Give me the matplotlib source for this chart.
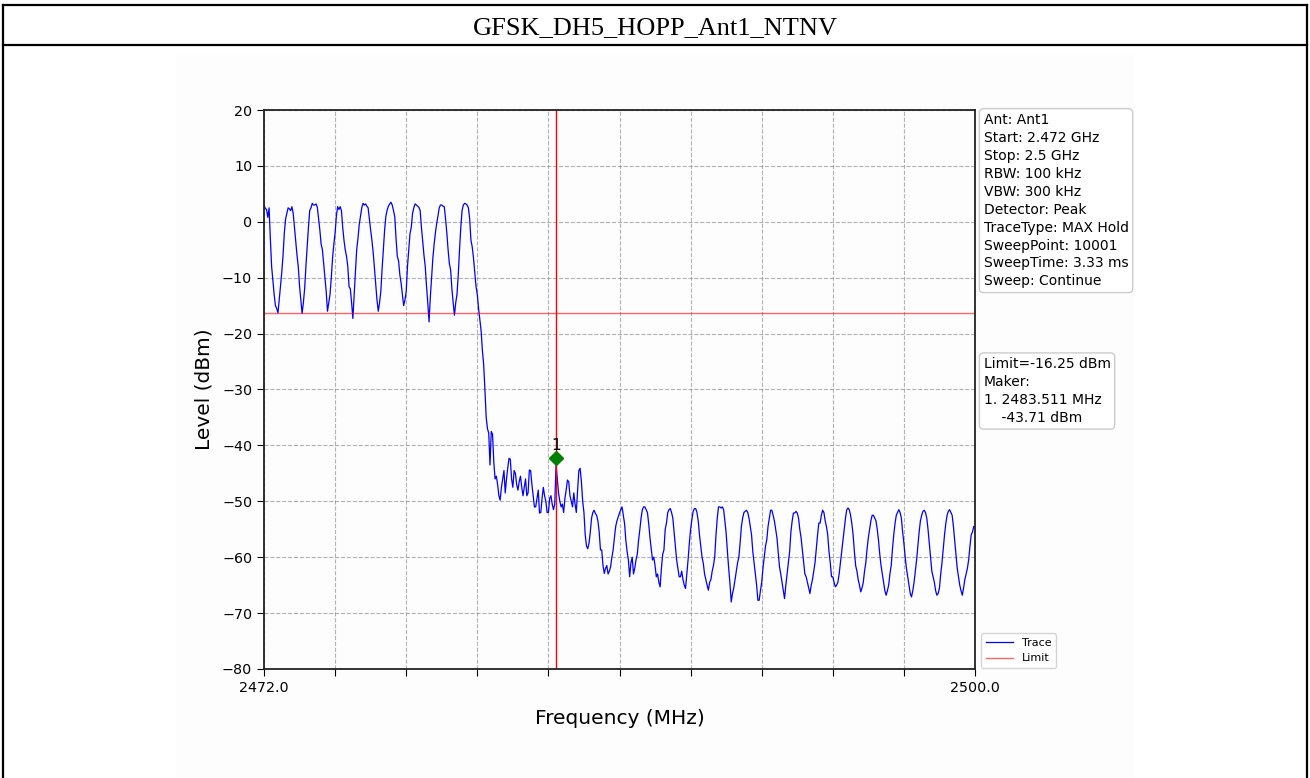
import numpy as np
import matplotlib
matplotlib.use("Agg")
import matplotlib.pyplot as plt
from matplotlib.lines import Line2D
from matplotlib.patches import Rectangle

# ---------------- data ----------------
title = "GFSK_DH5_HOPP_Ant1_NTNV"
start_mhz = 2472.0
stop_mhz = 2500.0
step_mhz = 0.05

# trace level (dBm), one row per MHz, 0.05 MHz steps
levels = [
    # 2472
    3.0, 2.4, 2.2, 0.8, 2.5, -3.0, -8.0, -10.5, -13.0, -15.0, -15.5, -16.3, -14.0, -11.5, -9.0, -6.0, -2.0, 0.5, 1.5, 2.5,
    # 2473
    2.3, 2.0, 2.7, 1.5, -1.0, -3.5, -6.0, -8.0, -11.5, -14.0, -16.4, -14.5, -12.0, -8.0, -4.5, -1.0, 2.0, 2.5, 3.3, 3.0,
    # 2474
    3.0, 3.2, 2.6, 0.5, -1.5, -4.0, -5.0, -7.5, -10.0, -12.5, -16.0, -14.5, -13.0, -10.0, -6.5, -4.0, -2.0, 1.0, 2.7, 2.2,
    # 2475
    2.7, 2.0, -1.0, -3.3, -5.0, -6.2, -8.0, -11.6, -12.0, -14.5, -17.3, -13.0, -9.0, -5.0, -3.0, -0.5, 1.0, 2.5, 3.3, 3.0,
    # 2476
    3.2, 2.8, 2.5, 0.5, -1.5, -3.3, -5.5, -8.3, -11.0, -14.0, -16.0, -14.5, -12.5, -8.5, -5.0, -1.5, 1.0, 2.1, 2.8, 3.2,
    # 2477
    3.5, 3.0, 2.0, 0.9, -3.0, -6.2, -7.0, -9.5, -11.0, -13.0, -15.0, -14.0, -12.5, -8.0, -5.0, -2.1, -1.0, 1.5, 2.5, 3.2,
    # 2478
    3.0, 2.8, 2.6, 2.0, -1.0, -3.5, -6.0, -8.0, -11.5, -14.5, -17.9, -13.5, -10.0, -6.5, -4.0, -2.0, -0.3, 1.0, 2.5, 3.0,
    # 2479
    3.0, 2.8, 2.7, 0.5, -2.0, -5.0, -7.5, -8.6, -12.0, -14.5, -16.7, -14.5, -13.0, -9.5, -5.0, -1.0, 2.0, 3.0, 3.3, 3.2,
    # 2480
    3.0, 2.5, 0.5, -3.3, -4.5, -6.5, -9.0, -11.6, -13.0, -15.5, -17.5, -19.5, -23.0, -25.5, -30.0, -35.0, -37.0, -37.8, -43.5, -37.5,
    # 2481
    -38.0, -43.0, -46.0, -45.5, -47.0, -49.0, -49.8, -47.5, -46.0, -44.5, -48.5, -46.0, -44.0, -42.3, -42.5, -46.0, -47.5, -44.5, -45.0, -47.0,
    # 2482
    -48.0, -46.5, -45.5, -47.5, -49.0, -47.5, -46.0, -49.0, -48.5, -44.4, -44.5, -47.0, -49.0, -51.0, -51.0, -49.5, -48.0, -52.1, -52.0, -49.5,
    # 2483
    -47.5, -49.0, -50.0, -52.0, -52.0, -49.5, -49.0, -50.5, -51.5, -50.5, -43.5, -46.0, -48.5, -50.0, -51.0, -50.5, -52.0, -49.5, -48.0, -46.2,
    # 2484
    -46.5, -49.0, -50.0, -51.0, -48.5, -50.5, -52.0, -48.0, -44.5, -44.1, -46.5, -50.0, -52.0, -56.0, -58.0, -58.5, -57.5, -55.5, -53.0, -52.0,
    # 2485
    -51.6, -52.2, -52.5, -53.5, -55.5, -58.7, -58.7, -61.5, -62.9, -62.0, -61.5, -63.0, -62.5, -61.7, -60.0, -58.7, -56.5, -54.5, -53.5, -52.8,
    # 2486
    -52.1, -51.5, -51.0, -52.5, -54.0, -57.0, -59.0, -60.5, -63.5, -61.0, -60.0, -63.0, -62.0, -60.5, -59.5, -57.0, -55.1, -53.0, -51.5, -51.0,
    # 2487
    -51.0, -51.5, -52.0, -54.0, -56.5, -58.5, -60.5, -60.0, -61.5, -63.5, -63.0, -64.5, -65.3, -62.0, -59.5, -58.7, -55.0, -53.9, -52.0, -51.5,
    # 2488
    -51.3, -52.0, -53.0, -55.5, -58.0, -60.5, -62.0, -63.5, -63.5, -62.5, -64.0, -65.0, -65.6, -63.0, -60.5, -57.5, -55.0, -53.3, -51.8, -51.3,
    # 2489
    -51.3, -52.0, -53.5, -56.0, -58.0, -60.0, -61.1, -63.0, -64.0, -65.0, -65.9, -64.5, -64.0, -62.5, -61.5, -59.9, -56.0, -53.0, -51.0, -51.0,
    # 2490
    -51.2, -51.0, -51.5, -53.5, -55.7, -59.0, -62.0, -64.7, -68.0, -66.5, -65.5, -64.0, -62.5, -61.0, -60.0, -57.5, -54.5, -53.0, -52.0, -51.8,
    # 2491
    -51.6, -52.0, -53.0, -54.5, -56.0, -59.0, -61.0, -62.9, -65.0, -67.7, -67.7, -66.0, -64.5, -62.0, -60.0, -58.0, -56.9, -54.5, -53.0, -51.6,
    # 2492
    -51.6, -52.5, -53.5, -55.0, -56.5, -59.0, -61.7, -63.0, -64.5, -66.0, -67.4, -65.0, -63.0, -61.0, -59.0, -55.5, -53.5, -52.1, -52.1, -51.8,
    # 2493
    -52.1, -53.0, -55.0, -56.5, -58.7, -61.0, -63.0, -63.5, -64.5, -65.5, -66.5, -65.0, -64.0, -62.5, -61.0, -58.5, -56.0, -53.9, -53.9, -52.5,
    # 2494
    -51.6, -52.0, -53.5, -54.5, -56.0, -59.0, -61.0, -63.5, -63.5, -64.5, -65.3, -65.0, -64.5, -63.0, -61.0, -59.0, -57.0, -55.0, -53.0, -51.5,
    # 2495
    -51.2, -51.5, -52.5, -54.0, -56.0, -59.0, -61.5, -62.5, -64.0, -65.0, -66.2, -65.5, -64.5, -62.5, -61.0, -58.5, -56.5, -55.0, -53.5, -52.5,
    # 2496
    -52.5, -53.0, -53.5, -55.0, -57.0, -59.5, -61.5, -63.0, -64.5, -66.0, -66.8, -66.0, -65.0, -63.0, -61.5, -58.5, -56.0, -54.0, -52.5, -52.0,
    # 2497
    -51.5, -52.0, -53.0, -55.5, -57.5, -60.0, -62.0, -63.5, -65.0, -66.5, -67.1, -66.0, -64.5, -62.5, -60.5, -58.0, -55.5, -53.5, -52.5, -51.8,
    # 2498
    -51.6, -52.0, -53.0, -55.0, -57.5, -60.0, -62.5, -63.5, -64.5, -66.0, -66.8, -66.5, -65.5, -63.0, -61.0, -58.5, -56.0, -54.0, -52.5, -51.8,
    # 2499
    -51.5, -52.0, -52.5, -54.5, -57.0, -59.5, -62.0, -63.5, -65.0, -66.0, -66.8, -65.5, -64.0, -63.0, -62.0, -60.5, -58.1, -56.0, -55.5, -54.5,
    # 2500
    -54.5,
]

limit_dbm = -16.25
marker_freq = 2483.511
marker_level = -42.3
marker_label = "1"

info_text = ("Ant: Ant1\nStart: 2.472 GHz\nStop: 2.5 GHz\nRBW: 100 kHz\nVBW: 300 kHz\n"
             "Detector: Peak\nTraceType: MAX Hold\nSweepPoint: 10001\n"
             "SweepTime: 3.33 ms\nSweep: Continue")
marker_text = "Limit=-16.25 dBm\nMaker:\n1. 2483.511 MHz\n    -43.71 dBm"

y_ticks = [20, 10, 0, -10, -20, -30, -40, -50, -60, -70, -80]
n_xdiv = 10
x_ticklabels = ["2472.0", "", "", "", "", "", "", "", "", "", "2500.0"]

# ---------------- figure ----------------
W, H = 1310, 778
fig = plt.figure(figsize=(W / 100, H / 100), dpi=100)
fig.patch.set_facecolor("white")

# embedded plot image background
fig.add_artist(Rectangle((175 / W, 0), (1135 - 175) / W, 1 - 55 / H,
                         transform=fig.transFigure, facecolor="#fdfdfd",
                         edgecolor="none", zorder=0))

# outer table frame
lw_frame = 1.6
def fline(x0, y0, x1, y1):
    fig.add_artist(Line2D([x0 / W, x1 / W], [1 - y0 / H, 1 - y1 / H],
                          transform=fig.transFigure, color="black",
                          linewidth=lw_frame, zorder=5))
fline(3, 5, 1307, 5)
fline(3, 45, 1307, 45)
fline(3, 5, 3, 778)
fline(1307, 5, 1307, 778)

fig.text(655 / W, 1 - 28 / H, title, ha="center", va="center",
         fontsize=19, family="Liberation Serif")

ax = fig.add_axes([264 / W, 1 - 669 / H, 711 / W, 559 / H])
ax.set_facecolor("#fdfdfd")

freqs = np.round(start_mhz + step_mhz * np.arange(len(levels)), 3)
ax.plot(freqs, levels, color="blue", linewidth=0.9, label="Trace")
ax.axhline(limit_dbm, color="red", linewidth=1.0, alpha=0.6, label="Limit")
ax.axvline(marker_freq, color="red", linewidth=1.0)
ax.plot([marker_freq], [marker_level], marker="D", color="green",
        markersize=7, linestyle="none")
ax.annotate(marker_label, (marker_freq, marker_level), xytext=(0, 4),
            textcoords="offset points", ha="center", va="bottom", fontsize=11)

ax.set_xlim(start_mhz, stop_mhz)
ax.set_ylim(-80, 20)
ax.set_yticks(y_ticks)
xt = np.linspace(start_mhz, stop_mhz, n_xdiv + 1)
ax.set_xticks(xt)
ax.set_xticklabels(x_ticklabels)
ax.tick_params(axis="both", labelsize=10.3, length=5)
ax.grid(True, linestyle="--", color="gray", alpha=0.6, linewidth=0.8)
ax.set_xlabel("Frequency (MHz)", fontsize=14.5, labelpad=10)
ax.set_ylabel("Level (dBm)", fontsize=14.5, labelpad=6)
for s in ax.spines.values():
    s.set_linewidth(1.3)
    s.set_color("#222222")

bbox = dict(boxstyle="round,pad=0.3", facecolor="white", edgecolor="#cccccc")
ax.text(1.012, 0.995, info_text, transform=ax.transAxes, ha="left", va="top",
        fontsize=10, bbox=bbox, linespacing=1.36)
ax.text(1.012, 0.558, marker_text, transform=ax.transAxes, ha="left", va="top",
        fontsize=10, bbox=bbox, linespacing=1.36)

ax.legend(loc="lower left", bbox_to_anchor=(1.007, 0.0), fontsize=8,
          frameon=True, handlelength=2.5, borderaxespad=0.1)

fig.savefig("out.png", dpi=100, facecolor="white")
